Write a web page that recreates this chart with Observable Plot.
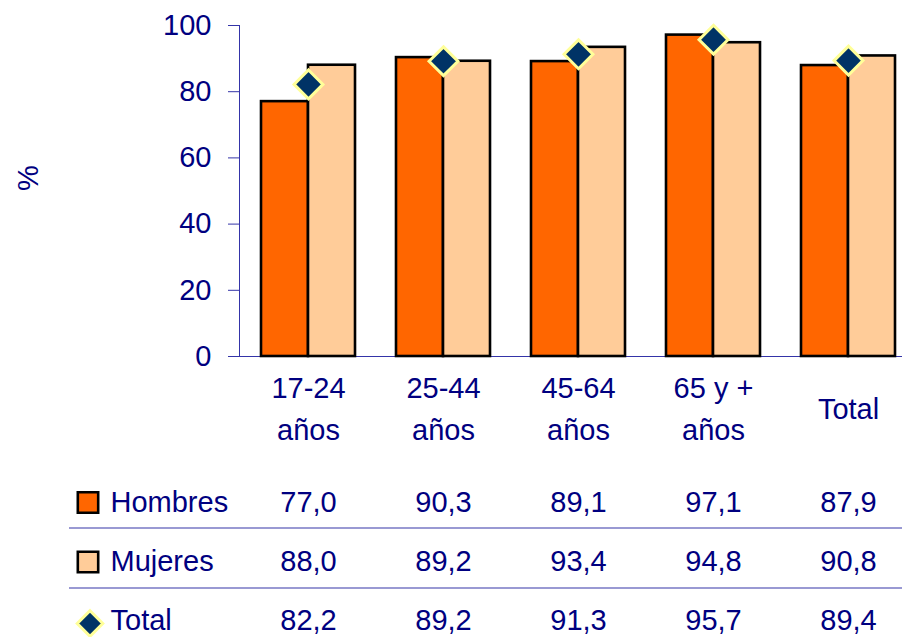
<!DOCTYPE html>
<html>
<head>
<meta charset="utf-8">
<script src="https://cdn.jsdelivr.net/npm/d3@7"></script>
<script src="https://cdn.jsdelivr.net/npm/@observablehq/plot@0.6"></script>
<style>
  html, body { margin: 0; padding: 0; background: #fff; }
  #chart svg { display: block; }
</style>
</head>
<body>
<div id="chart"></div>
<script>
const categories = ["17-24\naños", "25-44\naños", "45-64\naños", "65 y +\naños", "Total"];
const hombres = [77.0, 90.3, 89.1, 97.1, 87.9];
const mujeres = [88.0, 89.2, 93.4, 94.8, 90.8];
const total = [82.2, 89.2, 91.3, 95.7, 89.4];
const seriesNames = ["Hombres", "Mujeres", "Total"];
const yTicks = [0, 20, 40, 60, 80, 100];
const yLabel = "%";

const navy = "#000080";
const lineBlue = "#3434a8";
const cH = "#FF6600", cM = "#FFCC99", cT = "#003366", cTs = "#FFFF99";
const font = "'Liberation Sans', Arial, sans-serif";

const hData = categories.map((c, i) => ({cat: c, v: hombres[i]}));
const mData = categories.map((c, i) => ({cat: c, v: mujeres[i]}));
const tData = categories.map((c, i) => ({cat: c, v: total[i]}));
const fmt = v => d3.format(".1f")(v).replace(".", ",");
const rows = [hData, mData, tData];
const rowDy = [146, 205, 264];

const marks = [
  Plot.ruleY([0], {stroke: lineBlue, strokeWidth: 1}),
  Plot.frame({anchor: "left", stroke: lineBlue, strokeWidth: 1}),
  Plot.axisY({ticks: yTicks, tickSize: 11, tickPadding: 17, fontSize: 29, color: navy, stroke: lineBlue, label: null}),
  Plot.text([yLabel], {frameAnchor: "left", dx: -211, rotate: -90, fontSize: 29, fill: navy}),
  Plot.barY(hData, {x: "cat", y: "v", insetRight: 47, fill: cH, stroke: "#000", strokeWidth: 2.6}),
  Plot.barY(mData, {x: "cat", y: "v", insetLeft: 47, fill: cM, stroke: "#000", strokeWidth: 2.6}),
  Plot.dot(tData, {x: "cat", y: "v", symbol: "diamond2", r: 13, fill: cT, stroke: cTs, strokeWidth: 3}),
  Plot.text(categories, {x: d => d, text: d => d, frameAnchor: "bottom", lineAnchor: "middle", dy: 49, fontSize: 29, lineHeight: 1.45, fill: navy}),
  ...rows.map((r, i) => Plot.text(r, {x: "cat", text: d => fmt(d.v), frameAnchor: "bottom", lineAnchor: "middle", dy: rowDy[i], fontSize: 29, fill: navy})),
  ...seriesNames.map((s, i) => Plot.text([s], {frameAnchor: "bottom-left", lineAnchor: "middle", dx: 110 - 239, dy: rowDy[i], textAnchor: "start", fontSize: 29, fill: navy})),
  Plot.dot([seriesNames[0]], {frameAnchor: "bottom-left", dx: 87.5 - 239, dy: 502 - 356, symbol: "square", r: 11.5, fill: cH, stroke: "#000", strokeWidth: 2.6}),
  Plot.dot([seriesNames[1]], {frameAnchor: "bottom-left", dx: 87.5 - 239, dy: 561.5 - 356, symbol: "square", r: 11.5, fill: cM, stroke: "#000", strokeWidth: 2.6}),
  Plot.dot([seriesNames[2]], {frameAnchor: "bottom-left", dx: 89.5 - 239, dy: 623 - 356, symbol: "diamond2", r: 11.5, fill: cT, stroke: cTs, strokeWidth: 3}),
  (index, scales, values, dims) => {
    const g = d3.create("svg:g");
    [528, 588].forEach(y => {
      g.append("line").attr("x1", 69).attr("x2", dims.width).attr("y1", y).attr("y2", y)
        .attr("stroke", lineBlue).attr("stroke-width", 1.2);
    });
    return g.node();
  }
];

const plot = Plot.plot({
  width: 902,
  height: 637,
  marginTop: 25,
  marginBottom: 281,
  marginLeft: 239,
  marginRight: 0,
  style: {fontFamily: font, fontSize: "29px", background: "#fff", color: navy},
  x: {domain: categories, range: [239, 916], paddingInner: 0.306, paddingOuter: 0.153, axis: null},
  y: {domain: [0, 100], axis: null},
  marks
});
document.getElementById("chart").appendChild(plot);
</script>
</body>
</html>
